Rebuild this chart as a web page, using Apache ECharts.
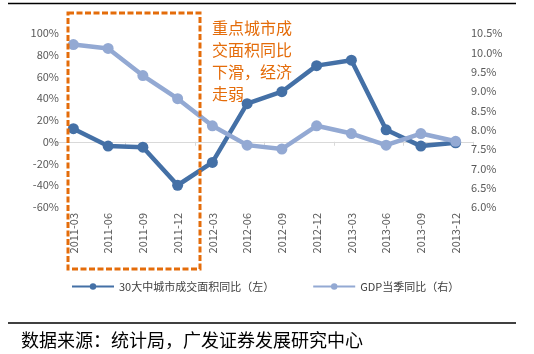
<!DOCTYPE html>
<html>
<head>
<meta charset="utf-8">
<script src="https://cdn.jsdelivr.net/npm/echarts@6/dist/echarts.min.js"></script>
<style>html,body{margin:0;padding:0;background:#fff;}#c{width:534px;height:354px;}</style>
</head>
<body>
<div id="c"></div>
<script>
var categories = ['2011-03','2011-06','2011-09','2011-12','2012-03','2012-06','2012-09','2012-12','2013-03','2013-06','2013-09','2013-12'];
var areaYoY = [12, -4, -5, -40, -19, 35, 46, 70, 75, 11, -4, -1];
var gdpYoY = [10.2, 10.1, 9.4, 8.8, 8.1, 7.6, 7.5, 8.1, 7.9, 7.6, 7.9, 7.7];
var seriesNames = ['30大中城市成交面积同比（左）', 'GDP当季同比（右）'];
var noteText = '重点城市成\n交面积同比\n下滑，经济\n走弱';
var sourceText = '数据来源：统计局，广发证券发展研究中心';

var FONT = '"Noto Sans CJK SC", "Noto Sans", sans-serif';
var chart = echarts.init(document.getElementById('c'), null, {renderer: 'canvas'});
var labelColor = '#595959';
chart.setOption({
  animation: false,
  textStyle: {fontFamily: FONT},
  grid: {left: 56, right: 61, top: 33, bottom: 147, containLabel: false},
  legend: {
    left: 66, top: 276, itemWidth: 42, itemHeight: 8, itemGap: 38,
    textStyle: {fontSize: 11, color: '#404040', fontFamily: FONT},
    data: seriesNames
  },
  xAxis: [{
    type: 'category', data: categories, boundaryGap: true, position: 'bottom',
    axisLine: {show: false, onZero: false}, axisTick: {show: false},
    axisLabel: {rotate: 90, margin: 6, fontSize: 11, color: labelColor, interval: 0}
  }, {
    type: 'category', data: categories, boundaryGap: true, position: 'bottom',
    axisLine: {show: true, onZero: true, onZeroAxisIndex: 0, lineStyle: {color: '#D9D9D9', width: 1}},
    axisTick: {show: true, length: 4, inside: false, lineStyle: {color: '#D9D9D9'}},
    axisLabel: {show: false}, splitLine: {show: false}
  }],
  yAxis: [{
    type: 'value', min: -60, max: 100, interval: 20,
    axisLine: {show: false}, axisTick: {show: false}, splitLine: {show: false},
    axisLabel: {formatter: '{value}%', fontSize: 11, color: labelColor, margin: -3}
  }, {
    type: 'value', min: 6, max: 10.5, interval: 0.5, position: 'right',
    axisLine: {show: false}, axisTick: {show: false}, splitLine: {show: false},
    axisLabel: {formatter: function(v){return v.toFixed(1) + '%';}, fontSize: 11, color: labelColor, margin: -2}
  }],
  series: [{
    name: seriesNames[0], type: 'line', data: areaYoY, xAxisIndex: 0, yAxisIndex: 0,
    symbol: 'circle', symbolSize: 11,
    lineStyle: {color: '#4470A6', width: 4.5}, itemStyle: {color: '#4470A6'}
  }, {
    name: seriesNames[1], type: 'line', data: gdpYoY, xAxisIndex: 0, yAxisIndex: 1,
    symbol: 'circle', symbolSize: 11,
    lineStyle: {color: '#93A9D3', width: 4.5}, itemStyle: {color: '#93A9D3'}
  }],
  graphic: [
    {type: 'line', shape: {x1: 8, y1: 3.5, x2: 516, y2: 3.5}, style: {stroke: '#000', lineWidth: 1.5}},
    {type: 'line', shape: {x1: 8, y1: 323, x2: 516, y2: 323}, style: {stroke: '#000', lineWidth: 1.5}},
    {type: 'rect', shape: {x: 68, y: 13, width: 132, height: 256}, z: 10,
     style: {fill: 'none', stroke: '#E46C0A', lineWidth: 3, lineDash: [6, 2.5]}},
    {type: 'text', left: 212, top: 17, z: 10,
     style: {text: noteText, fill: '#E46C0A', font: '16px ' + FONT, lineHeight: 22}},
    {type: 'text', left: 21, top: 331,
     style: {text: sourceText, fill: '#000', font: '18px ' + FONT}}
  ]
});
</script>
</body>
</html>
